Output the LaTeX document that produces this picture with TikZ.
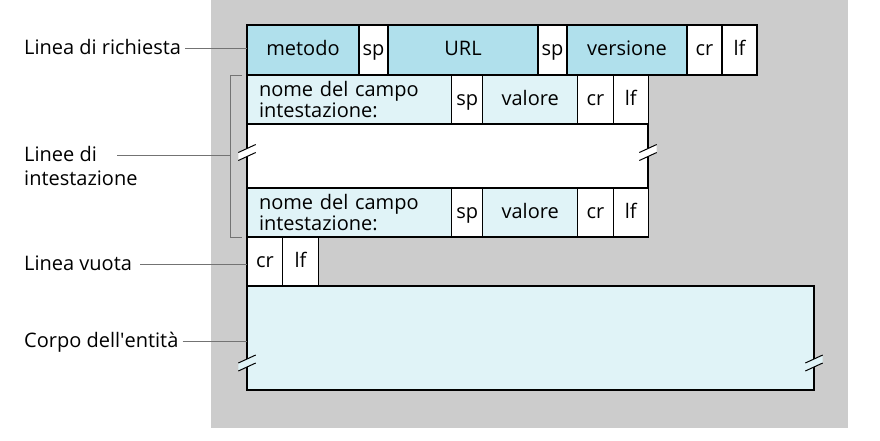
\documentclass[tikz,border=0pt]{standalone}
\usepackage{fontspec}
\setmainfont{Open Sans}
\usetikzlibrary{positioning}

\definecolor{bggray}{RGB}{204,204,204}
\definecolor{fieldblue}{RGB}{176,224,236}
\definecolor{paleblue}{RGB}{224,243,247}

\tikzset{
  field/.style={draw, line width=1.2pt, inner sep=0pt, outer sep=0pt,
    minimum height=50pt, text height=15pt, text depth=4pt,
    font=\fontsize{20}{21}\selectfont},
  reqfield/.style={field, fill=fieldblue},
  hdrfield/.style={field, fill=paleblue, minimum height=49pt},
  ctrl/.style={field, fill=white},
  hdrrow/.style={minimum height=49pt},
  hdrname/.style={draw, line width=1.2pt, fill=paleblue, outer sep=0pt,
    inner xsep=12pt, inner ysep=0pt, text width=180.7pt, align=left,
    minimum height=49pt, font=\fontsize{20}{21}\selectfont},
  lbl/.style={anchor=west, inner sep=4pt, text height=15pt, text depth=3pt,
    font=\fontsize{20}{21}\selectfont},
  leader/.style={draw=black!55, line width=0.8pt},
}

% two slanted strokes across a border
\newcommand{\cutmark}[2]{%
  \begin{scope}[shift={(#1)}]
    \fill[#2] (-8.7,0) -- (8.7,-8) -- (8.7,0) -- (-8.7,8) -- cycle;
    \draw[line width=1pt] (-8.7,0) -- (8.7,-8) (-8.7,8) -- (8.7,0);
  \end{scope}}

\begin{document}
\begin{tikzpicture}[x=1pt,y=-1pt]
\useasboundingbox (0,0) rectangle (880,440);
\fill[bggray] (211,0) rectangle (848,428);

% request line
\node[reqfield, minimum width=112pt, anchor=north west] (metodo) at (247,25) {metodo};
\node[ctrl, minimum width=29pt, right=0pt of metodo] (rsp1) {sp};
\node[reqfield, minimum width=150pt, right=0pt of rsp1] (url) {URL};
\node[ctrl, minimum width=29pt, right=0pt of url] (rsp2) {sp};
\node[reqfield, minimum width=120pt, right=0pt of rsp2] (versione) {versione};
\node[ctrl, minimum width=35pt, right=0pt of versione] (rcr) {cr};
\node[ctrl, minimum width=35pt, right=0pt of rcr] (rlf) {lf};

% header lines
\node[hdrname, anchor=north west] (nome1) at (metodo.south west) {nome del campo\\intestazione:};
\node[ctrl, hdrrow, minimum width=31pt, right=0pt of nome1] (hsp1) {sp};
\node[hdrfield, minimum width=95pt, right=0pt of hsp1] (valore1) {valore};
\node[ctrl, hdrrow, minimum width=35.5pt, right=0pt of valore1] (hcr1) {cr};
\node[ctrl, hdrrow, minimum width=35pt, right=0pt of hcr1] (hlf1) {lf};

\node[field, fill=white, minimum width=401pt, minimum height=64pt, anchor=north west] (skip) at (nome1.south west) {};

\node[hdrname, anchor=north west] (nome2) at (skip.south west) {nome del campo\\intestazione:};
\node[ctrl, hdrrow, minimum width=31pt, right=0pt of nome2] (hsp2) {sp};
\node[hdrfield, minimum width=95pt, right=0pt of hsp2] (valore2) {valore};
\node[ctrl, hdrrow, minimum width=35.5pt, right=0pt of valore2] (hcr2) {cr};
\node[ctrl, hdrrow, minimum width=35pt, right=0pt of hcr2] (hlf2) {lf};

% blank line and body
\node[ctrl, hdrrow, minimum width=35.7pt, anchor=north west] (vcr) at (nome2.south west) {cr};
\node[ctrl, hdrrow, minimum width=35.6pt, right=0pt of vcr] (vlf) {lf};
\node[field, fill=paleblue, minimum width=567pt, minimum height=104pt, anchor=north west] (corpo) at (vcr.south west) {};

\cutmark{247,152.5}{white}
\cutmark{648,152.5}{white}
\cutmark{247,363}{paleblue}
\cutmark{814,363}{paleblue}

% labels
\node[lbl] (lreq) at (20,48) {Linea di richiesta};
\node[lbl] (lhdr1) at (20,155) {Linee di};
\node[lbl] (lhdr2) at (20,179) {intestazione};
\node[lbl] (lvuota) at (20,264) {Linea vuota};
\node[lbl] (lcorpo) at (20,341) {Corpo dell\textquotesingle entità};
\coordinate (hdrbrk) at (230,155);

\draw[leader] (lreq.east) -- (lreq.east -| metodo.west);
\draw[leader, shorten <=16pt] (lhdr1.east) -- (lhdr1.east -| hdrbrk);
\draw[leader] ([xshift=-5pt]nome1.north west) -- ++(-12,0) |- ([xshift=-5pt]nome2.south west);
\draw[leader, shorten <=4pt] (lvuota.east) -- (lvuota.east -| vcr.west);
\draw[leader] (lcorpo.east) -- (lcorpo.east -| corpo.west);
\end{tikzpicture}
\end{document}
